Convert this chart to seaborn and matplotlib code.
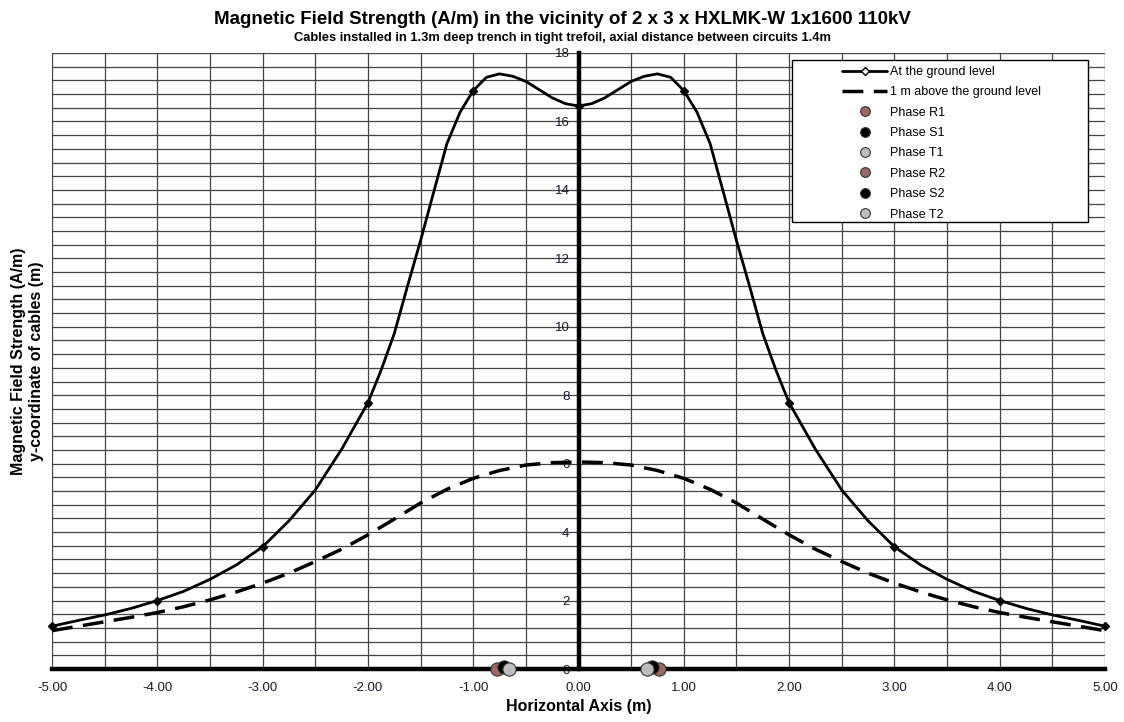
import numpy as np
import pandas as pd
import matplotlib
matplotlib.use("Agg")
import matplotlib.pyplot as plt
from matplotlib.lines import Line2D
from matplotlib.patches import Rectangle
from matplotlib.ticker import FormatStrFormatter
import seaborn as sns

# horizontal distance from the centre line (m), ground-level curve
x_ground = [-5.0, -4.75, -4.5, -4.25, -4.0, -3.75, -3.5, -3.25, -3.0, -2.75, -2.5,
            -2.25, -2.0, -1.875, -1.75, -1.625, -1.5, -1.375, -1.25, -1.125, -1.0,
            -0.875, -0.75, -0.625, -0.5, -0.375, -0.25, -0.125, 0.0,
            0.125, 0.25, 0.375, 0.5, 0.625, 0.75, 0.875, 1.0,
            1.125, 1.25, 1.375, 1.5, 1.625, 1.75, 1.875, 2.0,
            2.25, 2.5, 2.75, 3.0, 3.25, 3.5, 3.75, 4.0, 4.25, 4.5, 4.75, 5.0]

# field strength at the ground level (A/m)
h_ground = [1.25, 1.42, 1.58, 1.77, 2.00, 2.27, 2.62, 3.04, 3.57, 4.33, 5.23,
            6.42, 7.78, 8.73, 9.80, 11.18, 12.52, 13.94, 15.35, 16.27, 16.90,
            17.29, 17.39, 17.32, 17.17, 16.93, 16.69, 16.52, 16.45,
            16.52, 16.69, 16.93, 17.17, 17.32, 17.39, 17.29, 16.90,
            16.27, 15.35, 13.94, 12.52, 11.18, 9.80, 8.73, 7.78,
            6.42, 5.23, 4.33, 3.57, 3.04, 2.62, 2.27, 2.00, 1.77, 1.58, 1.42, 1.25]

# horizontal distance (m), curve 1 m above ground
x_above = [-5.0, -4.75, -4.5, -4.25, -4.0, -3.75, -3.5, -3.25, -3.0, -2.75, -2.5,
           -2.25, -2.0, -1.75, -1.5, -1.25, -1.0, -0.75, -0.5, -0.25, 0.0,
           0.25, 0.5, 0.75, 1.0, 1.25, 1.5, 1.75, 2.0, 2.25, 2.5, 2.75, 3.0,
           3.25, 3.5, 3.75, 4.0, 4.25, 4.5, 4.75, 5.0]

# field strength 1 m above the ground (A/m)
h_above = [1.12, 1.25, 1.38, 1.51, 1.65, 1.82, 2.02, 2.25, 2.51, 2.80, 3.14,
           3.50, 3.92, 4.38, 4.85, 5.25, 5.57, 5.80, 5.96, 6.03, 6.05,
           6.03, 5.96, 5.80, 5.57, 5.25, 4.85, 4.38, 3.92, 3.50, 3.14,
           2.80, 2.51, 2.25, 2.02, 1.82, 1.65, 1.51, 1.38, 1.25, 1.12]

# calculation points marked on the ground-level curve
x_marks = [-5, -4, -3, -2, -1, 0, 1, 2, 3, 4, 5]
h_marks = [1.25, 2.00, 3.57, 7.78, 16.90, 16.45, 16.90, 7.78, 3.57, 2.00, 1.25]

# cable positions (m)
phases = ["Phase R1", "Phase S1", "Phase T1", "Phase R2", "Phase S2", "Phase T2"]
phase_x = [-0.77, -0.71, -0.66, 0.76, 0.70, 0.65]
phase_y = [0.0, 0.05, 0.0, 0.0, 0.05, 0.0]
phase_colors = ["#9a6868", "#000000", "#bdbdbd", "#9a6868", "#000000", "#bdbdbd"]

sns.set_theme(style="white")
plt.rcParams["font.family"] = ["Liberation Sans", "DejaVu Sans"]
plt.rcParams["text.color"] = "black"
plt.rcParams["axes.labelcolor"] = "black"

ground = pd.DataFrame({"x": x_ground, "h": h_ground})
above = pd.DataFrame({"x": x_above, "h": h_above})

fig = plt.figure(figsize=(11.24, 7.22), dpi=100)
ax = fig.add_axes([0.0463, 0.0734, 0.9368, 0.8532])

# grid every 0.5 m / 0.4 A/m
for gx in np.arange(-5, 5.01, 0.5):
    ax.axvline(gx, color="#444444", lw=0.9, zorder=0)
for gy in np.arange(0.4, 18.01, 0.4):
    ax.axhline(gy, color="#444444", lw=0.9, zorder=0)

sns.lineplot(data=ground, x="x", y="h", ax=ax, color="black", lw=2.0, sort=False)
sns.lineplot(data=above, x="x", y="h", ax=ax, color="black", lw=2.5, sort=False)
ax.lines[-1].set_dashes((6, 3))
ax.plot(x_marks, h_marks, ls="none", marker="D", ms=4, color="black", zorder=4,
        clip_on=False)

for px, py, c in zip(phase_x, phase_y, phase_colors):
    ax.plot(px, py, ls="none", marker="o", ms=9.5, mfc=c, mec="#333333",
            mew=0.8, zorder=6, clip_on=False)

ax.set_xlim(-5, 5)
ax.set_ylim(0, 18)

# axes through the origin
for s in ["top", "right"]:
    ax.spines[s].set_visible(False)
ax.spines["left"].set_position(("data", 0))
for s in ["left", "bottom"]:
    ax.spines[s].set_linewidth(3.2)
    ax.spines[s].set_color("black")
    ax.spines[s].set_zorder(5)

ax.set_xticks(range(-5, 6))
ax.xaxis.set_major_formatter(FormatStrFormatter("%.2f"))
ax.set_yticks(range(0, 19, 2))
ax.tick_params(axis="x", which="major", direction="out", length=4, width=2.5,
               labelsize=9.5, pad=5, colors="black", labelcolor="#1a1a2e")
ax.tick_params(axis="y", which="major", direction="inout", length=9, width=2.2,
               labelsize=9.5, pad=2, colors="black", labelcolor="#1a1a2e")

ax.set_xlabel("Horizontal Axis (m)", fontsize=11.5, fontweight="bold", labelpad=4)
ax.set_ylabel("Magnetic Field Strength (A/m)\ny-coordinate of cables (m)",
              fontsize=11.5, fontweight="bold")
ax.yaxis.set_label_coords(-0.008, 0.5)

fig.text(0.5, 0.973, "Magnetic Field Strength (A/m) in the vicinity of 2 x 3 x HXLMK-W 1x1600 110kV",
         ha="center", va="center", fontsize=13.5, fontweight="bold")
fig.text(0.5, 0.947, "Cables installed in 1.3m deep trench in tight trefoil, axial distance between circuits 1.4m",
         ha="center", va="center", fontsize=9.3, fontweight="bold")

# legend box
ax.add_patch(Rectangle((0.703, 0.7256), 0.281, 0.263, transform=ax.transAxes,
                       facecolor="white", edgecolor="black", lw=1.0, zorder=9))
handles = [
    Line2D([], [], color="black", lw=2, marker="D", ms=4, mfc="white", mec="black"),
    Line2D([], [], color="black", lw=2.5, dashes=(6, 3)),
]
for c in phase_colors:
    handles.append(Line2D([], [], ls="none", marker="o", ms=7, mfc=c, mec="#333333", mew=0.8))
labels = ["At the ground level", "1 m above the ground level"] + phases
leg = ax.legend(handles, labels, loc="upper left", bbox_to_anchor=(0.7505, 0.979),
                frameon=False, fontsize=9, handlelength=3.6, labelspacing=0.67,
                borderaxespad=0, borderpad=0, handletextpad=0.2)
leg.set_zorder(10)

fig.savefig("out.png", dpi=100)
